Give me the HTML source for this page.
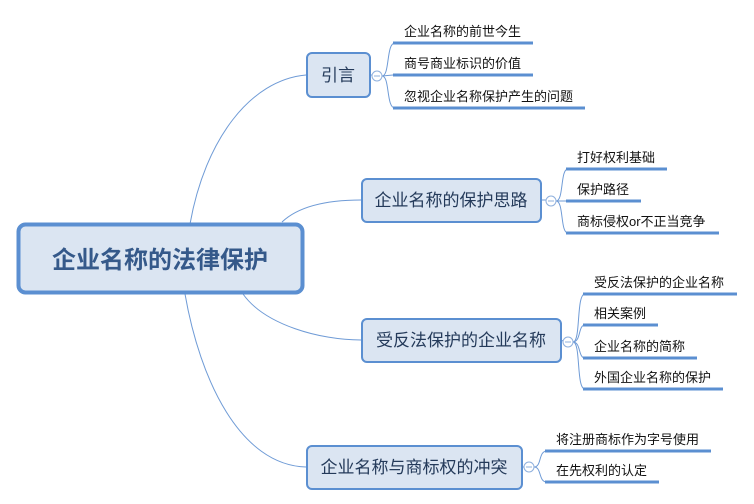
<!DOCTYPE html>
<html><head><meta charset="utf-8"><style>
html,body{margin:0;padding:0;background:#fff;}
svg{display:block;font-family:"Liberation Sans","Noto Sans CJK SC",sans-serif;}
</style></head><body>
<svg width="754" height="504" viewBox="0 0 754 504" xmlns="http://www.w3.org/2000/svg">
<g fill="none" stroke="#6f9bd6" stroke-width="1">
<path d="M190 224 C 205 140, 250 80, 306 75"/>
<path d="M282 222 C 300 205, 330 200, 361 200"/>
<path d="M243 294 C 265 325, 320 340, 361 340"/>
<path d="M185 294 C 200 380, 240 465, 306 467"/>
<path d="M382 76 C 390 76, 386 43, 395 43"/>
<path d="M382 76 L393 75"/>
<path d="M382 76 C 390 76, 386 108, 395 108"/>
<path d="M556 201 C 564 201, 560 169, 568 169"/>
<path d="M556 201 L566 201"/>
<path d="M556 201 C 564 201, 560 233, 568 233"/>
<path d="M573 342 C 581 342, 576 294, 585 294"/>
<path d="M573 342 C 581 342, 578 325, 585 325"/>
<path d="M573 342 C 581 342, 578 358, 585 358"/>
<path d="M573 342 C 581 342, 576 389, 585 389"/>
<path d="M534 467 C 542 467, 538 451, 547 451"/>
<path d="M534 467 C 542 467, 538 482, 547 482"/>
<path d="M370 75 L372 75"/><path d="M541 200 L546 200"/><path d="M561 340 L563 341"/><path d="M522 467 L524 467"/>
</g>
<g stroke="#5b8fd1" stroke-width="3">
<line x1="393" y1="43" x2="533" y2="43"/>
<line x1="393" y1="75" x2="533" y2="75"/>
<line x1="393" y1="108" x2="585" y2="108"/>
<line x1="566" y1="169" x2="667" y2="169"/>
<line x1="566" y1="201" x2="641" y2="201"/>
<line x1="566" y1="233" x2="719" y2="233"/>
<line x1="583" y1="294" x2="737" y2="294"/>
<line x1="583" y1="325" x2="658" y2="325"/>
<line x1="583" y1="358" x2="697" y2="358"/>
<line x1="583" y1="389" x2="723" y2="389"/>
<line x1="545" y1="451" x2="711" y2="451"/>
<line x1="545" y1="482" x2="659" y2="482"/>
</g>
<g fill="#fff" stroke="#8fb0dd" stroke-width="1">
<circle cx="377" cy="76" r="5"/><circle cx="551" cy="201" r="5"/><circle cx="568" cy="342" r="5"/><circle cx="529" cy="467" r="5"/>
</g>
<g stroke="#8fb0dd" stroke-width="1">
<line x1="374" y1="76" x2="380" y2="76"/><line x1="548" y1="201" x2="554" y2="201"/><line x1="565" y1="342" x2="571" y2="342"/><line x1="526" y1="467" x2="532" y2="467"/>
</g>
<rect x="18.5" y="224.5" width="284" height="68" rx="7" fill="#dbe5f2" stroke="#5b8fd1" stroke-width="4"/>
<text x="160" y="268" text-anchor="middle" font-size="24" font-weight="bold" fill="#35598a">企业名称的法律保护</text>
<g fill="#dbe5f2" stroke="#5b8fd1" stroke-width="2">
<rect x="307" y="53" width="63" height="44" rx="5"/>
<rect x="362" y="179" width="179" height="43" rx="5"/>
<rect x="362" y="319" width="199" height="43" rx="5"/>
<rect x="307" y="446" width="215" height="43" rx="5"/>
</g>
<g font-size="17" fill="#243a5a" text-anchor="middle">
<text x="338" y="81">引言</text>
<text x="451" y="206">企业名称的保护思路</text>
<text x="461" y="346">受反法保护的企业名称</text>
<text x="414" y="473">企业名称与商标权的冲突</text>
</g>
<g font-size="13" fill="#111">
<text x="404" y="36">企业名称的前世今生</text>
<text x="404" y="68">商号商业标识的价值</text>
<text x="404" y="101">忽视企业名称保护产生的问题</text>
<text x="577" y="162">打好权利基础</text>
<text x="577" y="194">保护路径</text>
<text x="577" y="226">商标侵权or不正当竞争</text>
<text x="594" y="287">受反法保护的企业名称</text>
<text x="594" y="318">相关案例</text>
<text x="594" y="351">企业名称的简称</text>
<text x="594" y="382">外国企业名称的保护</text>
<text x="556" y="444">将注册商标作为字号使用</text>
<text x="556" y="475">在先权利的认定</text>
</g>
</svg>
</body></html>
